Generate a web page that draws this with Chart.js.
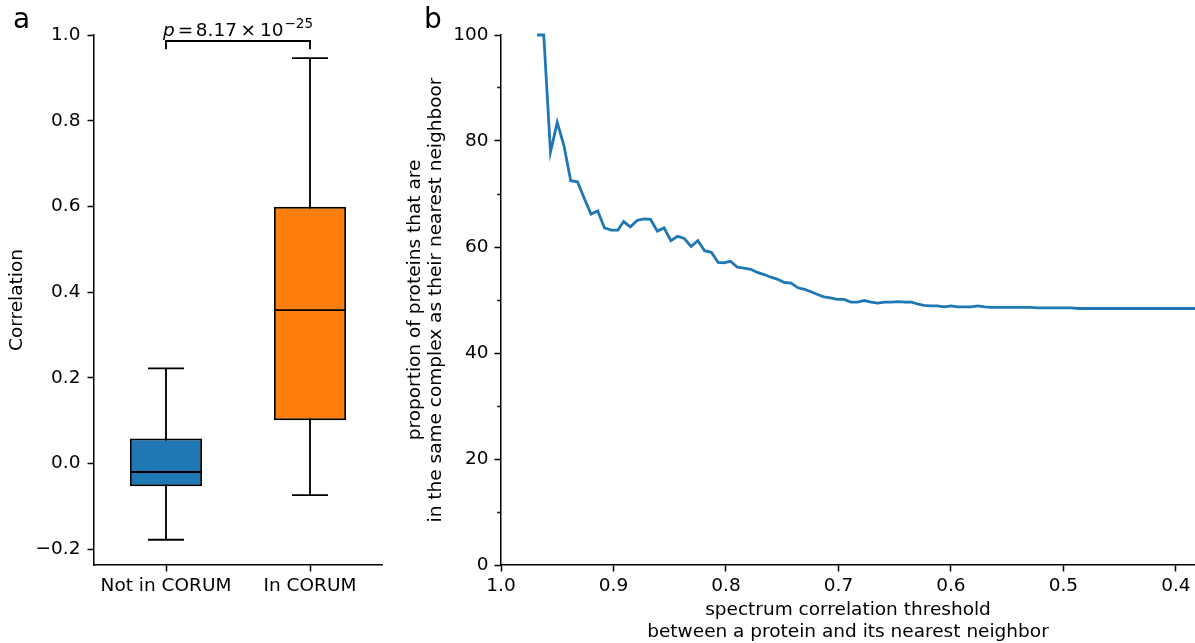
<!DOCTYPE html>
<html>
<head>
<meta charset="utf-8">
<script src="https://cdn.jsdelivr.net/npm/chart.js@4/dist/chart.umd.min.js"></script>
<style>
  body { margin: 0; background: #fff; }
  #figure { position: relative; width: 1195px; height: 643px; font-family: 'DejaVu Sans', sans-serif; }
  .panel { position: absolute; top: 0; height: 643px; }
  #panelA { left: 0; width: 400px; }
  #panelB { left: 400px; width: 795px; }
  .panel-label { position: absolute; top: 5px; font-size: 28px; line-height: 28px; color: #000; }
</style>
</head>
<body>
<div id="figure">
  <div class="panel" id="panelA"><canvas id="boxChart"></canvas></div>
  <div class="panel" id="panelB"><canvas id="lineChart"></canvas></div>
  <div class="panel-label" style="left:13px">a</div>
  <div class="panel-label" style="left:424px">b</div>
</div>
<script>
// Panel a: box plot summary values
const boxCategories = ['Not in CORUM', 'In CORUM'];
const boxPositions = [1, 2];
const whiskerLow = [-0.178, -0.074];
const quartile1 = [-0.053, 0.101];
const medians = [-0.020, 0.358];
const quartile3 = [0.058, 0.599];
const whiskerHigh = [0.222, 0.946];
const correlationTicks = [-0.2, 0.0, 0.2, 0.4, 0.6, 0.8, 1.0];
const pValueMantissa = '8.17';
const pValueExponent = '\u221225';

// Panel b: nearest neighbour curve
const thresholds = [
    0.968, 0.962, 0.956, 0.950, 0.944, 0.938, 0.932, 0.926, 0.920, 0.914,
    0.908, 0.902, 0.896, 0.891, 0.885, 0.879, 0.873, 0.867, 0.861, 0.855,
    0.849, 0.843, 0.837, 0.831, 0.825, 0.819, 0.813, 0.807, 0.802, 0.796,
    0.790, 0.784, 0.778, 0.772, 0.766, 0.760, 0.754, 0.748, 0.742, 0.736,
    0.730, 0.724, 0.718, 0.713, 0.707, 0.701, 0.695, 0.689, 0.683, 0.677,
    0.671, 0.665, 0.659, 0.653, 0.647, 0.641, 0.635, 0.629, 0.624, 0.618,
    0.612, 0.606, 0.600, 0.594, 0.588, 0.582, 0.576, 0.570, 0.564, 0.558,
    0.552, 0.546, 0.540, 0.535, 0.529, 0.523, 0.517, 0.511, 0.505, 0.499,
    0.493, 0.487, 0.481, 0.475, 0.469, 0.463, 0.457, 0.451, 0.446, 0.440,
    0.434, 0.428, 0.422, 0.416, 0.410, 0.404, 0.398, 0.392, 0.386, 0.380
];
const proportions = [
    100, 100, 77.9, 83.5, 79.1, 72.5, 72.3, 69.2, 66.2, 66.8,
    63.6, 63.2, 63.2, 64.8, 63.8, 65.0, 65.3, 65.2, 63.0, 63.6,
    61.2, 62.0, 61.6, 60.1, 61.2, 59.3, 59.0, 57.1, 57.0, 57.3,
    56.2, 56.0, 55.8, 55.2, 54.8, 54.3, 53.9, 53.3, 53.2, 52.3,
    52.0, 51.5, 51.0, 50.6, 50.4, 50.1, 50.1, 49.6, 49.6, 49.9,
    49.6, 49.4, 49.6, 49.6, 49.7, 49.6, 49.6, 49.2, 49.0, 48.9,
    48.9, 48.7, 48.9, 48.7, 48.7, 48.7, 48.9, 48.7, 48.6, 48.6,
    48.6, 48.6, 48.6, 48.6, 48.6, 48.5, 48.5, 48.5, 48.5, 48.5,
    48.5, 48.4, 48.4, 48.4, 48.4, 48.4, 48.4, 48.4, 48.4, 48.4,
    48.4, 48.4, 48.4, 48.4, 48.4, 48.4, 48.4, 48.4, 48.4, 48.4
];
const thresholdTicks = [1.0, 0.9, 0.8, 0.7, 0.6, 0.5, 0.4];
const proportionTicks = [0, 20, 40, 60, 80, 100];
const proportionMinorTicks = [10, 30, 50, 70, 90];

// Styling
const boxColors = ['#1f77b4', '#ff7f0e'];
const lineColor = '#1f77b4';
const fontFamily = "'DejaVu Sans', sans-serif";
const axisFont = { family: fontFamily, size: 18.5 };
const boxWidth = 0.5;
const capWidth = 0.25;
const bracketTop = 0.986;
const bracketDrop = 0.967;

Chart.defaults.font.family = fontFamily;
Chart.defaults.color = '#000';

// Shared axis look (matplotlib-like: outward ticks, no grid)
function gridStyle(len) {
    return { drawOnChartArea: false, drawTicks: true, tickLength: len, tickColor: '#000', tickWidth: 1.5 };
}
const borderStyle = { color: '#000', width: 1.5 };

// Draws the p-value text above the bracket
const pValuePlugin = {
    id: 'pValueLabel',
    afterDraw(chart) {
        const { ctx, scales: { x, y } } = chart;
        const main = "18.5px " + fontFamily;
        const pieces = [
            { text: 'p', font: 'italic ' + main, gap: 3, rise: 0 },
            { text: '=', font: main, gap: 2.5, rise: 0 },
            { text: pValueMantissa, font: main, gap: 3.5, rise: 0 },
            { text: '\u00d7', font: main, gap: 4, rise: 0 },
            { text: '10', font: main, gap: 1, rise: 0 },
            { text: pValueExponent, font: "13.5px " + fontFamily, gap: 0, rise: 8 }
        ];
        ctx.save();
        let total = 0;
        pieces.forEach(p => {
            ctx.font = p.font;
            p.width = ctx.measureText(p.text).width;
            total += p.width + p.gap;
        });
        let cx = x.getPixelForValue(1.5) - total / 2;
        const baseline = y.getPixelForValue(bracketTop) - 4.5;
        ctx.fillStyle = '#000';
        ctx.textBaseline = 'alphabetic';
        ctx.textAlign = 'left';
        pieces.forEach(p => {
            ctx.font = p.font;
            ctx.fillText(p.text, cx, baseline - p.rise);
            cx += p.width + p.gap;
        });
        ctx.restore();
    }
};

function initBoxChart() {
    const ctx = document.getElementById('boxChart').getContext('2d');

    const whiskerPoints = [];
    const capPoints = [];
    const medianPoints = [];
    boxPositions.forEach((p, i) => {
        whiskerPoints.push({ x: p, y: whiskerLow[i] }, { x: p, y: whiskerHigh[i] }, { x: p, y: null });
        capPoints.push({ x: p - capWidth / 2, y: whiskerHigh[i] }, { x: p + capWidth / 2, y: whiskerHigh[i] }, { x: p, y: null });
        capPoints.push({ x: p - capWidth / 2, y: whiskerLow[i] }, { x: p + capWidth / 2, y: whiskerLow[i] }, { x: p, y: null });
        medianPoints.push({ x: p - boxWidth / 2, y: medians[i] }, { x: p + boxWidth / 2, y: medians[i] }, { x: p, y: null });
    });
    const bracketPoints = [
        { x: boxPositions[0], y: bracketDrop }, { x: boxPositions[0], y: bracketTop },
        { x: boxPositions[1], y: bracketTop }, { x: boxPositions[1], y: bracketDrop }
    ];
    const lineBase = { type: 'line', borderColor: '#000', borderWidth: 1.85, pointRadius: 0, spanGaps: false, tension: 0 };

    new Chart(ctx, {
        type: 'bar',
        data: {
            datasets: [
                Object.assign({}, lineBase, { data: medianPoints, order: 0 }),
                {
                    type: 'bar',
                    data: boxPositions.map((p, i) => ({ x: p, y: [quartile1[i], quartile3[i]] })),
                    backgroundColor: boxColors,
                    borderColor: '#000',
                    borderWidth: 1.85,
                    borderSkipped: false,
                    categoryPercentage: 1,
                    barPercentage: boxWidth,
                    order: 1
                },
                Object.assign({}, lineBase, { data: whiskerPoints, order: 2 }),
                Object.assign({}, lineBase, { data: capPoints, order: 2 }),
                Object.assign({}, lineBase, { data: bracketPoints, order: 2, clip: false })
            ]
        },
        options: {
            responsive: true,
            maintainAspectRatio: false,
            animation: false,
            layout: { padding: { top: 35, right: 18, left: 0, bottom: 0 } },
            plugins: { legend: { display: false }, tooltip: { enabled: false } },
            scales: {
                x: {
                    type: 'linear',
                    min: 0.5,
                    max: 2.5,
                    offset: false,
                    afterBuildTicks: s => { s.ticks = boxPositions.map(v => ({ value: v })); },
                    afterFit: s => { s.height = 78; },
                    ticks: {
                        color: '#000', font: axisFont, padding: 4, maxRotation: 0, autoSkip: false,
                        callback: v => boxCategories[boxPositions.indexOf(v)]
                    },
                    grid: Object.assign({ offset: false }, gridStyle(6.5)),
                    border: borderStyle
                },
                y: {
                    type: 'linear',
                    min: -0.237,
                    max: 1.0,
                    afterBuildTicks: s => { s.ticks = correlationTicks.map(v => ({ value: v })); },
                    afterFit: s => { s.width = 94; },
                    ticks: {
                        color: '#000', font: axisFont, padding: 7,
                        callback: v => v.toFixed(1).replace('-', '\u2212')
                    },
                    grid: gridStyle(6.5),
                    border: borderStyle,
                    title: {
                        display: true, text: 'Correlation', color: '#000',
                        font: Object.assign({ lineHeight: 1.15 }, axisFont),
                        padding: { top: 6.7, bottom: 0 }
                    }
                }
            }
        },
        plugins: [pValuePlugin]
    });
}

function initLineChart() {
    const ctx = document.getElementById('lineChart').getContext('2d');

    new Chart(ctx, {
        type: 'line',
        data: {
            datasets: [{
                data: thresholds.map((t, i) => ({ x: t, y: proportions[i] })),
                borderColor: lineColor,
                borderWidth: 2.8,
                pointRadius: 0,
                tension: 0,
                clip: 4
            }]
        },
        options: {
            responsive: true,
            maintainAspectRatio: false,
            animation: false,
            layout: { padding: { top: 35, right: 0, left: 0, bottom: 0 } },
            plugins: { legend: { display: false }, tooltip: { enabled: false } },
            scales: {
                x: {
                    type: 'linear',
                    reverse: true,
                    min: 0.383,
                    max: 1.0,
                    afterBuildTicks: s => { s.ticks = thresholdTicks.map(v => ({ value: v })); },
                    afterFit: s => { s.height = 78; },
                    ticks: { color: '#000', font: axisFont, padding: 4, maxRotation: 0, autoSkip: false, callback: v => v.toFixed(1) },
                    grid: gridStyle(6.5),
                    border: borderStyle,
                    title: {
                        display: true,
                        text: ['spectrum correlation threshold', 'between a protein and its nearest neighbor'],
                        color: '#000',
                        font: Object.assign({ lineHeight: 1.2 }, axisFont),
                        padding: { top: 0, bottom: 0 }
                    }
                },
                y: {
                    type: 'linear',
                    weight: 1,
                    min: 0,
                    max: 100,
                    afterBuildTicks: s => { s.ticks = proportionTicks.map(v => ({ value: v })); },
                    afterFit: s => { s.width = 101; },
                    ticks: { color: '#000', font: axisFont, padding: 6 },
                    grid: gridStyle(6.5),
                    border: borderStyle,
                    title: {
                        display: true,
                        text: ['proportion of proteins that are', 'in the same complex as their nearest neighboor'],
                        color: '#000',
                        font: Object.assign({ lineHeight: 1.15 }, axisFont),
                        padding: { top: 4.4, bottom: 0 }
                    }
                },
                yMinor: {
                    type: 'linear',
                    position: 'left',
                    weight: 0,
                    min: 0,
                    max: 100,
                    afterBuildTicks: s => { s.ticks = proportionMinorTicks.map(v => ({ value: v })); },
                    afterFit: s => { s.width = 0; },
                    ticks: { display: false },
                    grid: gridStyle(3.7),
                    border: { display: false }
                }
            }
        }
    });
}

document.addEventListener('DOMContentLoaded', function() {
    initBoxChart();
    initLineChart();
});
</script>
</body>
</html>
